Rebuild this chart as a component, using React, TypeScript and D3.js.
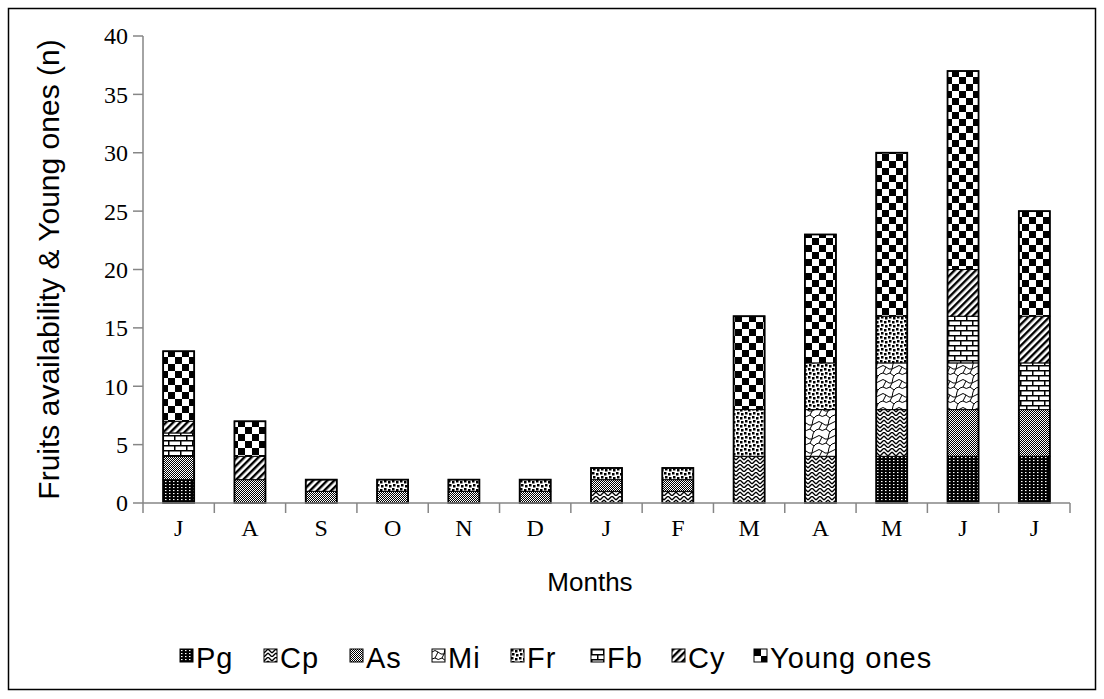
import React, { useRef, useEffect } from "react";
import * as d3 from "d3";

const months = ["J", "A", "S", "O", "N", "D", "J", "F", "M", "A", "M", "J", "J"];
const seriesNames = ["Pg", "Cp", "As", "Mi", "Fr", "Fb", "Cy", "Young ones"];
const pg = [2, 0, 0, 0, 0, 0, 0, 0, 0, 0, 4, 4, 4];
const cp = [0, 0, 0, 0, 0, 0, 1, 1, 4, 4, 4, 0, 0];
const as = [2, 2, 1, 1, 1, 1, 1, 1, 0, 0, 0, 4, 4];
const mi = [0, 0, 0, 0, 0, 0, 0, 0, 0, 4, 4, 4, 0];
const fr = [0, 0, 0, 1, 1, 1, 1, 1, 4, 4, 4, 0, 0];
const fb = [2, 0, 0, 0, 0, 0, 0, 0, 0, 0, 0, 4, 4];
const cy = [1, 2, 1, 0, 0, 0, 0, 0, 0, 0, 0, 4, 4];
const young = [6, 3, 0, 0, 0, 0, 0, 0, 8, 11, 14, 17, 9];
const yTicks = [0, 5, 10, 15, 20, 25, 30, 35, 40];

const App: React.FC = () => {
  const svgRef = useRef<SVGSVGElement | null>(null);

  useEffect(() => {
    if (!svgRef.current) return;
    document.body.style.margin = "0";
    const svg = d3.select(svgRef.current);
    svg.selectAll("*").remove();

    const width = 1104;
    const height = 699;
    const margin = { left: 143, right: 34, top: 36, bottom: 196 };

    const values = [pg, cp, as, mi, fr, fb, cy, young];
    const table = months.map((m, i) => {
      const row: any = { idx: i, month: m };
      seriesNames.forEach((k, j) => (row[k] = values[j][i]));
      return row;
    });

    const x = d3
      .scaleBand<number>()
      .domain(d3.range(months.length))
      .range([margin.left, width - margin.right])
      .paddingInner(0)
      .paddingOuter(0);
    const y = d3
      .scaleLinear()
      .domain([0, 40])
      .range([height - margin.bottom, margin.top]);

    const defs = svg.append("defs");
    const mk = (id: string, w: number, h: number) =>
      defs
        .append("pattern")
        .attr("id", id)
        .attr("patternUnits", "userSpaceOnUse")
        .attr("width", w)
        .attr("height", h);

    // Pg: black with white dot grid
    const pPg = mk("pat-Pg", 4, 3);
    pPg.append("rect").attr("width", 4).attr("height", 3).attr("fill", "#000");
    pPg.append("rect").attr("x", 1).attr("y", 1).attr("width", 1.5).attr("height", 1.1).attr("fill", "#fff");

    // Cp: herringbone
    const pCp = mk("pat-Cp", 8, 8);
    pCp.append("rect").attr("width", 8).attr("height", 8).attr("fill", "#fff");
    pCp
      .append("path")
      .attr("d", "M0,4 L4,0 M0,8 L4,4 M4,0 L8,4 M4,4 L8,8")
      .attr("stroke", "#000")
      .attr("stroke-width", 1.4)
      .attr("fill", "none");

    // As: fine checker
    const pAs = mk("pat-As", 2, 2);
    pAs.append("rect").attr("width", 2).attr("height", 2).attr("fill", "#000");
    pAs.append("rect").attr("width", 1).attr("height", 1).attr("fill", "#fff");
    pAs.append("rect").attr("x", 1).attr("y", 1).attr("width", 1).attr("height", 1).attr("fill", "#fff");

    // Mi: shingle / wavy
    const pMi = mk("pat-Mi", 16, 14);
    pMi.append("rect").attr("width", 16).attr("height", 14).attr("fill", "#fff");
    pMi
      .append("path")
      .attr("d", "M0,3 Q3,0 6,3 T12,5 L16,3 M6,3 L3,9 Q6,12 10,9 L14,12 L16,10 M10,9 L12,5 M0,10 L3,9 M14,12 L13,14 M13,0 L12,5")
      .attr("stroke", "#000")
      .attr("stroke-width", 1)
      .attr("fill", "none");

    // Fr: confetti squares
    const pFr = mk("pat-Fr", 8, 8);
    pFr.append("rect").attr("width", 8).attr("height", 8).attr("fill", "#fff");
    [
      [0, 0],
      [4, 1],
      [1, 4],
      [5, 5],
    ].forEach(([a, b]) =>
      pFr.append("rect").attr("x", a).attr("y", b).attr("width", 2.5).attr("height", 2.5).attr("fill", "#000")
    );

    // Fb: bricks
    const pFb = mk("pat-Fb", 12, 10);
    pFb.append("rect").attr("width", 12).attr("height", 10).attr("fill", "#fff");
    pFb
      .append("path")
      .attr("d", "M0,0.75 H12 M0,5.75 H12 M0.75,0 V5 M6.75,5 V10")
      .attr("stroke", "#000")
      .attr("stroke-width", 1.5)
      .attr("fill", "none");

    // Cy: diagonal stripes
    const pCy = mk("pat-Cy", 5, 5).attr("patternTransform", "rotate(45)");
    pCy.append("rect").attr("width", 5).attr("height", 5).attr("fill", "#fff");
    pCy.append("rect").attr("width", 2.4).attr("height", 5).attr("fill", "#000");

    // Young ones: big checker
    const pYo = mk("pat-Young", 14, 14);
    pYo.append("rect").attr("width", 14).attr("height", 14).attr("fill", "#fff");
    pYo.append("rect").attr("width", 7).attr("height", 7).attr("fill", "#000");
    pYo.append("rect").attr("x", 7).attr("y", 7).attr("width", 7).attr("height", 7).attr("fill", "#000");

    const patId: Record<string, string> = {
      Pg: "pat-Pg",
      Cp: "pat-Cp",
      As: "pat-As",
      Mi: "pat-Mi",
      Fr: "pat-Fr",
      Fb: "pat-Fb",
      Cy: "pat-Cy",
      "Young ones": "pat-Young",
    };

    svg.append("rect").attr("width", width).attr("height", height).attr("fill", "#fff");

    // outer frame
    svg
      .append("rect")
      .attr("x", 8.5)
      .attr("y", 8.5)
      .attr("width", 1087)
      .attr("height", 681)
      .attr("fill", "none")
      .attr("stroke", "#000")
      .attr("stroke-width", 1.5);

    // bars
    const stack = d3.stack<any>().keys(seriesNames);
    const layers = stack(table);
    const barW = x.bandwidth() * 0.435;

    layers.forEach((layer) => {
      svg
        .append("g")
        .selectAll("rect")
        .data(layer.filter((d) => d[1] - d[0] > 0))
        .join("rect")
        .attr("x", (d) => x(d.data.idx)! + (x.bandwidth() - barW) / 2)
        .attr("y", (d) => y(d[1]))
        .attr("width", barW)
        .attr("height", (d) => y(d[0]) - y(d[1]))
        .attr("fill", `url(#${patId[layer.key]})`)
        .attr("stroke", "#000")
        .attr("stroke-width", 1);
    });

    // bar outlines
    const total = (d: any) => d3.sum(seriesNames, (k) => d[k]);
    svg
      .append("g")
      .selectAll("rect")
      .data(table)
      .join("rect")
      .attr("x", (d) => x(d.idx)! + (x.bandwidth() - barW) / 2)
      .attr("y", (d) => y(total(d)))
      .attr("width", barW)
      .attr("height", (d) => y(0) - y(total(d)))
      .attr("fill", "none")
      .attr("stroke", "#000")
      .attr("stroke-width", 1.8);

    const axisColor = "#868686";
    const serif = "'Liberation Serif', 'Times New Roman', serif";
    const sans = "'Liberation Sans', Arial, sans-serif";

    // y axis
    const yAxis = svg.append("g");
    yAxis
      .append("line")
      .attr("x1", margin.left)
      .attr("x2", margin.left)
      .attr("y1", y(0))
      .attr("y2", y(40))
      .attr("stroke", axisColor)
      .attr("stroke-width", 1.5);
    yAxis
      .selectAll("line.tick")
      .data(yTicks)
      .join("line")
      .attr("class", "tick")
      .attr("x1", margin.left - 10)
      .attr("x2", margin.left)
      .attr("y1", (d) => y(d))
      .attr("y2", (d) => y(d))
      .attr("stroke", axisColor)
      .attr("stroke-width", 1.5);
    yAxis
      .selectAll("text")
      .data(yTicks)
      .join("text")
      .attr("x", margin.left - 15)
      .attr("y", (d) => y(d))
      .attr("dy", "0.35em")
      .attr("text-anchor", "end")
      .attr("font-family", serif)
      .attr("font-size", 24)
      .text((d) => d);

    // x axis
    const xAxis = svg.append("g");
    xAxis
      .append("line")
      .attr("x1", margin.left)
      .attr("x2", width - margin.right)
      .attr("y1", y(0))
      .attr("y2", y(0))
      .attr("stroke", axisColor)
      .attr("stroke-width", 1.5);
    xAxis
      .selectAll("line.tick")
      .data(d3.range(months.length + 1))
      .join("line")
      .attr("class", "tick")
      .attr("x1", (i) => margin.left + i * x.step())
      .attr("x2", (i) => margin.left + i * x.step())
      .attr("y1", y(0))
      .attr("y2", y(0) + 10)
      .attr("stroke", axisColor)
      .attr("stroke-width", 1.5);
    xAxis
      .selectAll("text")
      .data(table)
      .join("text")
      .attr("x", (d) => x(d.idx)! + x.bandwidth() / 2)
      .attr("y", y(0) + 33)
      .attr("text-anchor", "middle")
      .attr("font-family", serif)
      .attr("font-size", 24)
      .text((d) => d.month);

    // axis titles
    svg
      .append("text")
      .attr("x", 590)
      .attr("y", 591)
      .attr("text-anchor", "middle")
      .attr("font-family", sans)
      .attr("font-size", 26)
      .text("Months");

    svg
      .append("text")
      .attr("transform", `translate(59,${(y(0) + y(40)) / 2}) rotate(-90)`)
      .attr("text-anchor", "middle")
      .attr("font-family", sans)
      .attr("font-size", 30)
      .text("Fruits availability & Young ones (n)");

    // legend
    const legendX = [180, 264, 350, 432, 511, 591, 672, 754];
    const lg = svg
      .append("g")
      .selectAll("g")
      .data(seriesNames)
      .join("g")
      .attr("transform", (d, i) => `translate(${legendX[i]},649)`);
    lg.append("rect")
      .attr("width", 13)
      .attr("height", 13)
      .attr("fill", (d) => `url(#${patId[d]})`)
      .attr("stroke", "#000")
      .attr("stroke-width", 1);
    lg.append("text")
      .attr("x", 16)
      .attr("y", 13)
      .attr("dy", "0.2em")
      .attr("font-family", sans)
      .attr("font-size", 29)
      .attr("letter-spacing", 1)
      .text((d) => d);
  }, []);

  return <svg ref={svgRef} width={1104} height={699} style={{ display: "block" }}></svg>;
};

export default App;
